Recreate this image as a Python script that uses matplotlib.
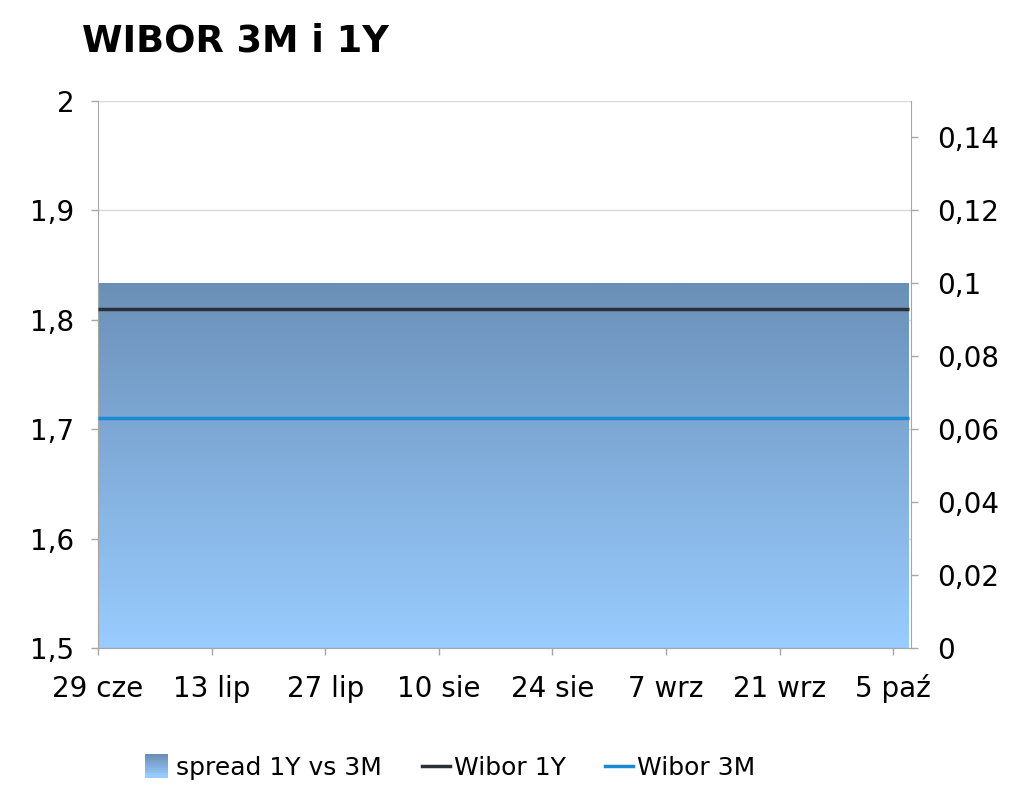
import numpy as np
import pandas as pd
import matplotlib
matplotlib.use("Agg")
import matplotlib.pyplot as plt
import matplotlib.dates as mdates
from matplotlib.colors import LinearSegmentedColormap
from matplotlib.patches import Rectangle
from matplotlib.lines import Line2D
from matplotlib.legend_handler import HandlerBase

# ---- data ----
dates = pd.date_range("2018-06-29", "2018-10-07", freq="D")
wibor_1y = [1.81] * len(dates)
wibor_3m = [1.71] * len(dates)
spread = [round(a - b, 2) for a, b in zip(wibor_1y, wibor_3m)]
tick_dates = pd.to_datetime(["2018-06-29", "2018-07-13", "2018-07-27", "2018-08-10",
                             "2018-08-24", "2018-09-07", "2018-09-21", "2018-10-05"])
tick_labels = ["29 cze", "13 lip", "27 lip", "10 sie", "24 sie", "7 wrz", "21 wrz", "5 paź"]
left_ticks = [1.5, 1.6, 1.7, 1.8, 1.9, 2.0]
right_ticks = [0, 0.02, 0.04, 0.06, 0.08, 0.1, 0.12, 0.14]

C_1Y = "#2b2f36"
C_3M = "#1a8ad4"
C_TOP = "#6b90b8"
C_BOT = "#99ccff"


def pl(v):
    return ("%g" % v).replace(".", ",")


plt.rcParams['font.family'] = ['DejaVu Sans']
fig = plt.figure(figsize=(10.24, 7.91), dpi=100)
ax = fig.add_axes([98/1024, 1-648/791, (911-98)/1024, (648-101)/791])
ax2 = ax.twinx()

xnum = mdates.date2num(dates)
x0 = mdates.date2num(pd.Timestamp("2018-06-29"))
x1 = mdates.date2num(pd.Timestamp("2018-10-07")) + 0.2

# spread area with vertical gradient (right axis)
cmap = LinearSegmentedColormap.from_list("g", [C_BOT, C_TOP])
poly = ax2.fill_between(xnum, 0, spread, color="none", lw=0, zorder=1)
grad = np.linspace(0, 1, 256).reshape(-1, 1)
im = ax2.imshow(grad, cmap=cmap, origin="lower", aspect="auto",
                extent=[xnum[0], xnum[-1], 0, max(spread)], zorder=1)
im.set_clip_path(poly.get_paths()[0], transform=ax2.transData)

# lines on left axis above the area
ax.set_zorder(ax2.get_zorder() + 1)
ax.patch.set_visible(False)
ax.plot(xnum, wibor_1y, color=C_1Y, lw=2.5, solid_capstyle="butt", zorder=3)
ax.plot(xnum, wibor_3m, color=C_3M, lw=2.5, solid_capstyle="butt", zorder=3)

ax.set_xlim(x0, x1)
ax2.set_xlim(x0, x1)
ax.set_ylim(1.5, 2.0)
ax2.set_ylim(0, 0.15)
ax.set_yticks(left_ticks)
ax.set_yticklabels([pl(v) for v in left_ticks])
ax2.set_yticks(right_ticks)
ax2.set_yticklabels([pl(v) for v in right_ticks])
ax.set_xticks(mdates.date2num(tick_dates))
ax.set_xticklabels(tick_labels)

# horizontal gridlines at left-axis ticks
for v in left_ticks[1:]:
    yy = (v - 1.5) / 0.5 * 0.15
    ax2.axhline(yy, color="#d9d9d9", lw=1, zorder=0)

for a in (ax, ax2):
    a.spines["top"].set_visible(False)
    a.tick_params(axis="both", labelsize=20, length=5, width=1, color="#a6a6a6", pad=14)
    for s in ("left", "right", "bottom"):
        a.spines[s].set_color("#a6a6a6")
ax2.spines["left"].set_visible(False)
ax.spines["right"].set_visible(False)
ax.tick_params(axis="y", pad=12)
ax.tick_params(axis="x", pad=30)
for lab in ax.get_xticklabels():
    lab.set_verticalalignment("baseline")

fig.text(82/1024, 1-51/791, "WIBOR 3M i 1Y", fontsize=26.5, fontweight="bold",
         va="baseline", ha="left")


class GradHandler(HandlerBase):
    def create_artists(self, legend, orig_handle, xdescent, ydescent, width, height, fontsize, trans):
        n = 12
        arts = []
        size = height * 1.3
        y0 = -ydescent + (height - size) / 2
        for i in range(n):
            c = cmap(1 - i / (n - 1))
            r = Rectangle((-xdescent, y0 + size * (n - 1 - i) / n), size, size / n + 0.3,
                          facecolor=c, edgecolor="none", transform=trans)
            arts.append(r)
        return arts


handles = [Rectangle((0, 0), 1, 1, facecolor=C_TOP, edgecolor="none"),
           Line2D([], [], color=C_1Y, lw=2.5),
           Line2D([], [], color=C_3M, lw=2.5)]
fig.legend(handles, ["spread 1Y vs 3M", "Wibor 1Y", "Wibor 3M"], loc="center",
           bbox_to_anchor=(450/1024, 1-768/791), ncol=3, frameon=False, fontsize=18,
           handlelength=1.1, handletextpad=0.15, columnspacing=1.6,
           handler_map={Rectangle: GradHandler()})

fig.savefig("out.png", dpi=100)
